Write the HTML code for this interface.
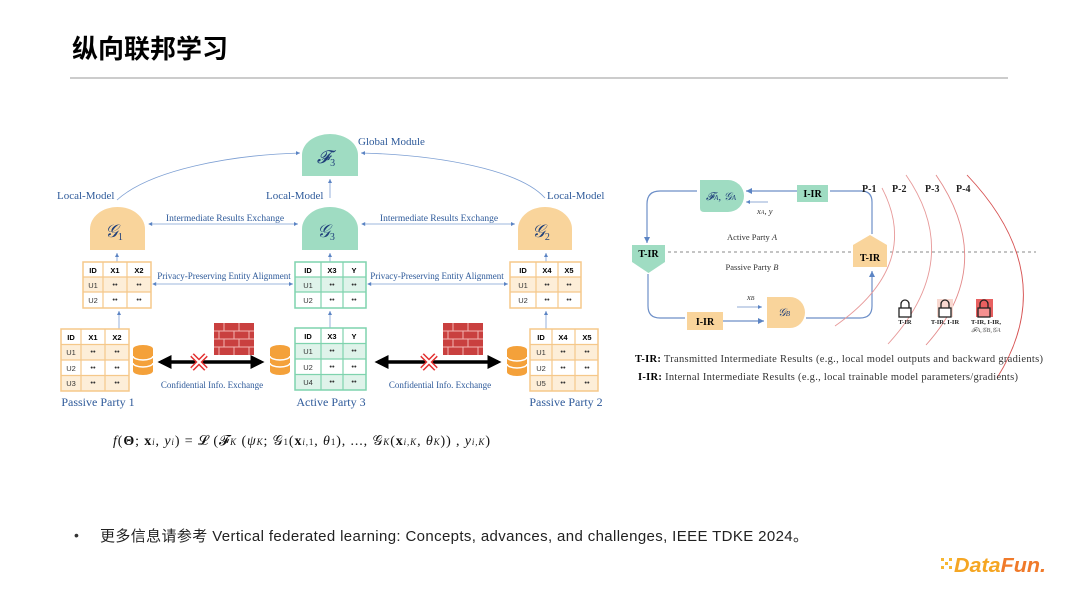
<!DOCTYPE html>
<html><head><meta charset="utf-8"><style>
html,body{margin:0;padding:0;background:#fff;}
svg{display:block;}
.s{font-family:"Liberation Serif",serif;}
.a{font-family:"Liberation Sans",sans-serif;}
</style></head><body>
<svg width="1080" height="608" viewBox="0 0 1080 608" xmlns="http://www.w3.org/2000/svg">
<defs>
<marker id="ab" markerWidth="6" markerHeight="6" refX="5" refY="3" orient="auto"><path d="M0,0.5 L5,3 L0,5.5z" fill="#5b84c4"/></marker>
<marker id="abs" markerWidth="6" markerHeight="6" refX="1" refY="3" orient="auto"><path d="M5,0.5 L0,3 L5,5.5z" fill="#5b84c4"/></marker>
<marker id="kb" markerWidth="4" markerHeight="4" refX="3" refY="2" orient="auto"><path d="M0,0 L4,2 L0,4z" fill="#000"/></marker>
<marker id="kbs" markerWidth="4" markerHeight="4" refX="1" refY="2" orient="auto"><path d="M4,0 L0,2 L4,4z" fill="#000"/></marker>
<g id="db"><ellipse cx="10" cy="4" rx="10" ry="4" fill="#f4a13a"/><rect x="0" y="4" width="20" height="22" fill="#f4a13a"/><ellipse cx="10" cy="26" rx="10" ry="4" fill="#f4a13a"/><path d="M0,11 a10,4 0 0 0 20,0 M0,18 a10,4 0 0 0 20,0" fill="none" stroke="#fff" stroke-width="1.5"/></g>
<g id="wall"><rect x="0" y="0" width="40" height="32" fill="#c9403f"/><path d="M0,8H40M0,16H40M0,24H40M10,0V8M25,0V8M5,8V16M20,8V16M35,8V16M10,16V24M25,16V24M5,24V32M20,24V32M35,24V32" stroke="#f3b4b0" stroke-width="1"/></g>
<g id="rx"><path d="M-7,-7 L7,7 M7,-7 L-7,7" stroke="#e23030" stroke-width="5"/><path d="M-7,-7 L7,7 M7,-7 L-7,7" stroke="#fff" stroke-width="2"/></g>
</defs>

<text x="72" y="58" font-family="Liberation Sans,Noto Sans CJK SC,sans-serif" font-size="26" font-weight="bold" fill="#000">纵向联邦学习</text>
<line x1="70" y1="78" x2="1008" y2="78" stroke="#999" stroke-width="1"/>

<g class="s" fill="#2e5a9a">
<text x="358" y="145" font-size="11">Global Module</text>
<text x="57" y="199" font-size="11">Local-Model</text>
<text x="266" y="199" font-size="11">Local-Model</text>
<text x="547" y="199" font-size="11">Local-Model</text>
<text x="225" y="221" font-size="9.5" text-anchor="middle">Intermediate Results Exchange</text>
<text x="439" y="221" font-size="9.5" text-anchor="middle">Intermediate Results Exchange</text>
<text x="224" y="279" font-size="9" text-anchor="middle">Privacy-Preserving Entity Alignment</text>
<text x="437" y="279" font-size="9" text-anchor="middle">Privacy-Preserving Entity Alignment</text>
<text x="212" y="388" font-size="9" text-anchor="middle">Confidential Info. Exchange</text>
<text x="440" y="388" font-size="9" text-anchor="middle">Confidential Info. Exchange</text>
<text x="98" y="406" font-size="12" text-anchor="middle">Passive Party 1</text>
<text x="331" y="406" font-size="12" text-anchor="middle">Active Party 3</text>
<text x="566" y="406" font-size="12" text-anchor="middle">Passive Party 2</text>
</g>
<path d="M302,176 V155 a28,21 0 0 1 56,0 V176z" fill="#9fdcc2"/>
<path d="M90,250 V229 a27.5,22 0 0 1 55,0 V250z" fill="#f9d49b"/>
<path d="M302,250 V229 a28,22 0 0 1 56,0 V250z" fill="#9fdcc2"/>
<path d="M518,250 V229 a27,22 0 0 1 54,0 V250z" fill="#f9d49b"/>
<g class="s" font-style="italic" fill="#1f3f7a" font-size="18" text-anchor="middle">
<text x="326" y="163">𝓕<tspan font-size="10" font-style="normal" dy="3">3</tspan></text>
<text x="114" y="237">𝒢<tspan font-size="10" font-style="normal" dy="3">1</tspan></text>
<text x="326" y="237">𝒢<tspan font-size="10" font-style="normal" dy="3">3</tspan></text>
<text x="541" y="237">𝒢<tspan font-size="10" font-style="normal" dy="3">2</tspan></text>
</g>
<g fill="none" stroke="#7d9fd3" stroke-width="0.8">
<path d="M117,200 C150,170 230,155 300,153" marker-end="url(#ab)"/>
<path d="M545,198 C520,170 440,155 361,153" marker-end="url(#ab)"/>
<path d="M330,198 V179" marker-end="url(#ab)"/>
<path d="M149,224 H298" marker-start="url(#abs)" marker-end="url(#ab)"/>
<path d="M362,224 H515" marker-start="url(#abs)" marker-end="url(#ab)"/>
<path d="M153,284 H293" marker-start="url(#abs)" marker-end="url(#ab)"/>
<path d="M368,284 H508" marker-start="url(#abs)" marker-end="url(#ab)"/>
<path d="M117,262 V253" marker-end="url(#ab)"/>
<path d="M330,262 V253" marker-end="url(#ab)"/>
<path d="M546,262 V253" marker-end="url(#ab)"/>
<path d="M119,329 V311" marker-end="url(#ab)"/>
<path d="M330,328 V311" marker-end="url(#ab)"/>
<path d="M546,329 V311" marker-end="url(#ab)"/>
</g>

<g class="a" font-size="7.5" text-anchor="middle" fill="#333">
<g transform="translate(83,262)">
<rect x="0" y="15" width="68" height="15" fill="#fdeed8"/>
<rect x="0" y="0" width="68" height="46" fill="none" stroke="#f5c88a" stroke-width="1.5"/>
<path d="M20,0V46M44,0V46M0,15H68M0,30H68" stroke="#f5c88a" stroke-width="1.2"/>
<g font-weight="bold" fill="#000"><text x="10" y="11">ID</text><text x="32" y="11">X1</text><text x="56" y="11">X2</text></g>
<text x="10" y="26">U1</text><text x="32" y="25">••</text><text x="56" y="25">••</text>
<text x="10" y="41">U2</text><text x="32" y="40">••</text><text x="56" y="40">••</text>
</g>
<g transform="translate(295,262)">
<rect x="0" y="15" width="71" height="15" fill="#dff3ea"/>
<rect x="0" y="0" width="71" height="46" fill="none" stroke="#7fd3ae" stroke-width="1.5"/>
<path d="M26,0V46M48,0V46M0,15H71M0,30H71" stroke="#7fd3ae" stroke-width="1.2"/>
<g font-weight="bold" fill="#000"><text x="13" y="11">ID</text><text x="37" y="11">X3</text><text x="59" y="11">Y</text></g>
<text x="13" y="26">U1</text><text x="37" y="25">••</text><text x="59" y="25">••</text>
<text x="13" y="41">U2</text><text x="37" y="40">••</text><text x="59" y="40">••</text>
</g>
<g transform="translate(510,262)">
<rect x="0" y="15" width="71" height="15" fill="#fdeed8"/>
<rect x="0" y="0" width="71" height="46" fill="none" stroke="#f5c88a" stroke-width="1.5"/>
<path d="M26,0V46M48,0V46M0,15H71M0,30H71" stroke="#f5c88a" stroke-width="1.2"/>
<g font-weight="bold" fill="#000"><text x="13" y="11">ID</text><text x="37" y="11">X4</text><text x="59" y="11">X5</text></g>
<text x="13" y="26">U1</text><text x="37" y="25">••</text><text x="59" y="25">••</text>
<text x="13" y="41">U2</text><text x="37" y="40">••</text><text x="59" y="40">••</text>
</g>
<g transform="translate(61,329)">
<rect x="0" y="15.5" width="68" height="15.5" fill="#fdeed8"/><rect x="0" y="46.5" width="68" height="15.5" fill="#fdeed8"/>
<rect x="0" y="0" width="68" height="62" fill="none" stroke="#f5c88a" stroke-width="1.5"/>
<path d="M20,0V62M44,0V62M0,15.5H68M0,31H68M0,46.5H68" stroke="#f5c88a" stroke-width="1.2"/>
<g font-weight="bold" fill="#000"><text x="10" y="11">ID</text><text x="32" y="11">X1</text><text x="56" y="11">X2</text></g>
<text x="10" y="26">U1</text><text x="32" y="25">••</text><text x="56" y="25">••</text>
<text x="10" y="42">U2</text><text x="32" y="41">••</text><text x="56" y="41">••</text>
<text x="10" y="57">U3</text><text x="32" y="56">••</text><text x="56" y="56">••</text>
</g>
<g transform="translate(295,328)">
<rect x="0" y="15.5" width="71" height="15.5" fill="#dff3ea"/><rect x="0" y="46.5" width="71" height="15.5" fill="#dff3ea"/>
<rect x="0" y="0" width="71" height="62" fill="none" stroke="#7fd3ae" stroke-width="1.5"/>
<path d="M26,0V62M48,0V62M0,15.5H71M0,31H71M0,46.5H71" stroke="#7fd3ae" stroke-width="1.2"/>
<g font-weight="bold" fill="#000"><text x="13" y="11">ID</text><text x="37" y="11">X3</text><text x="59" y="11">Y</text></g>
<text x="13" y="26">U1</text><text x="37" y="25">••</text><text x="59" y="25">••</text>
<text x="13" y="42">U2</text><text x="37" y="41">••</text><text x="59" y="41">••</text>
<text x="13" y="57">U4</text><text x="37" y="56">••</text><text x="59" y="56">••</text>
</g>
<g transform="translate(530,329)">
<rect x="0" y="15.5" width="68" height="15.5" fill="#fdeed8"/><rect x="0" y="46.5" width="68" height="15.5" fill="#fdeed8"/>
<rect x="0" y="0" width="68" height="62" fill="none" stroke="#f5c88a" stroke-width="1.5"/>
<path d="M22,0V62M45,0V62M0,15.5H68M0,31H68M0,46.5H68" stroke="#f5c88a" stroke-width="1.2"/>
<g font-weight="bold" fill="#000"><text x="11" y="11">ID</text><text x="33" y="11">X4</text><text x="57" y="11">X5</text></g>
<text x="11" y="26">U1</text><text x="33" y="25">••</text><text x="57" y="25">••</text>
<text x="11" y="42">U2</text><text x="33" y="41">••</text><text x="57" y="41">••</text>
<text x="11" y="57">U5</text><text x="33" y="56">••</text><text x="57" y="56">••</text>
</g>
</g>
<use href="#db" x="133" y="345"/>
<use href="#db" x="270" y="345"/>
<use href="#db" x="507" y="346"/>
<path d="M161,362 H261" stroke="#000" stroke-width="3.5" marker-start="url(#kbs)" marker-end="url(#kb)"/>
<path d="M378,362 H498" stroke="#000" stroke-width="3.5" marker-start="url(#kbs)" marker-end="url(#kb)"/>
<use href="#rx" x="199" y="362"/>
<use href="#rx" x="429" y="362"/>
<use href="#wall" x="214" y="323"/>
<use href="#wall" x="443" y="323"/>

<text x="113" y="445" class="s" font-size="14" fill="#111" textLength="377" lengthAdjust="spacing"><tspan font-style="italic">f</tspan>(<tspan font-weight="bold">Θ</tspan>; <tspan font-weight="bold">x</tspan><tspan font-size="9" font-style="italic">i</tspan>, <tspan font-style="italic">y<tspan font-size="9">i</tspan></tspan>) = 𝓛 (𝓕<tspan font-size="9" font-style="italic">K</tspan> (<tspan font-style="italic">ψ<tspan font-size="9">K</tspan></tspan>; 𝒢<tspan font-size="9">1</tspan>(<tspan font-weight="bold">x</tspan><tspan font-size="9" font-style="italic">i,</tspan><tspan font-size="9">1</tspan>, <tspan font-style="italic">θ</tspan><tspan font-size="9">1</tspan>), ..., 𝒢<tspan font-size="9" font-style="italic">K</tspan>(<tspan font-weight="bold">x</tspan><tspan font-size="9" font-style="italic">i,K</tspan>, <tspan font-style="italic">θ<tspan font-size="9">K</tspan></tspan>)) , <tspan font-style="italic">y<tspan font-size="9">i,K</tspan></tspan>)</text>

<g fill="none" stroke="#6d8fc8" stroke-width="1.2">
<path d="M697,191 H660 q-13,0 -13,13 V243" marker-end="url(#ab)"/>
<path d="M648,274 V306 q0,12 12,12 H685"/>
<path d="M723,321 H764" marker-end="url(#ab)"/>
<path d="M806,318 H860 q12,0 12,-12 V271" marker-end="url(#ab)"/>
<path d="M872,234 V202 q0,-11 -11,-11 H830"/>
<path d="M797,191 H746" marker-end="url(#ab)"/>
<path d="M768,202 H746" stroke-width="0.8" marker-end="url(#ab)"/>
<path d="M737,307 H762" stroke-width="0.8" marker-end="url(#ab)"/>
</g>
<line x1="632" y1="252" x2="1036" y2="252" stroke="#888" stroke-width="1" stroke-dasharray="3,3"/>
<g fill="none" stroke-width="0.9">
<path d="M882,188 Q922,265 835,326" stroke="#e79a9a"/>
<path d="M906,175 Q965,260 888,344" stroke="#e79a9a"/>
<path d="M936,175 Q998,265 926,345" stroke="#e38a8a"/>
<path d="M967,175 Q1062,275 997,378" stroke="#d65050"/>
</g>
<path d="M700,180 H728 a16,16 0 0 1 0,32 H704 q-4,0 -4,-4z" fill="#9fdcc2"/>
<text x="721" y="200" class="s" font-style="italic" font-size="11" text-anchor="middle" fill="#1f3f7a">𝓕<tspan font-size="7">A</tspan>, 𝒢<tspan font-size="7">A</tspan></text>
<rect x="797" y="185" width="31" height="17" fill="#9fdcc2"/>
<text x="812.5" y="197" class="s" font-weight="bold" font-size="10" text-anchor="middle">I-IR</text>
<path d="M632,245 H665 V262 L648.5,273 L632,262z" fill="#9fdcc2"/>
<text x="648.5" y="257" class="s" font-weight="bold" font-size="10" text-anchor="middle">T-IR</text>
<path d="M853,267 V245 L870,235 L887,245 V267z" fill="#f9d49b"/>
<text x="870" y="261" class="s" font-weight="bold" font-size="10" text-anchor="middle">T-IR</text>
<path d="M767,297 H790 a15,15.5 0 0 1 0,31 H767z" fill="#f9d49b"/>
<text x="784" y="316" class="s" font-style="italic" font-size="11" text-anchor="middle" fill="#1f3f7a">𝒢<tspan font-size="7">B</tspan></text>
<rect x="687" y="312" width="36" height="18" fill="#f9d49b"/>
<text x="705" y="325" class="s" font-weight="bold" font-size="10" text-anchor="middle">I-IR</text>
<g class="s" font-size="8.5" fill="#333">
<text x="752" y="240" text-anchor="middle">Active Party <tspan font-style="italic">A</tspan></text>
<text x="752" y="270" text-anchor="middle">Passive Party <tspan font-style="italic">B</tspan></text>
<text x="757" y="214" font-style="italic">x<tspan font-size="6">A</tspan>, y</text>
<text x="747" y="300" font-style="italic">x<tspan font-size="6">B</tspan></text>
</g>
<g class="s" font-weight="bold" font-size="10" fill="#222">
<text x="862" y="192">P-1</text><text x="892" y="192">P-2</text><text x="925" y="192">P-3</text><text x="956" y="192">P-4</text>
</g>
<g stroke="#222" stroke-width="1.3" fill="none">
<path d="M901,308 v-4 a4,4 0 0 1 8,0 v4"/><rect x="899" y="308" width="12" height="9" fill="#fff"/>
<rect x="937" y="299" width="16" height="18" fill="#f8d8d0" stroke="none"/>
<path d="M941,308 v-4 a4,4 0 0 1 8,0 v4"/><rect x="939" y="308" width="12" height="9" fill="#fff"/>
<rect x="976" y="299" width="17" height="18" fill="#e86060" stroke="none"/>
<path d="M980,308 v-4 a4,4 0 0 1 8,0 v4"/><rect x="978" y="308" width="12" height="9" fill="#f59090"/>
</g>
<g class="s" font-size="6.5" font-weight="bold" fill="#222" text-anchor="middle">
<text x="905" y="324">T-IR</text><text x="945" y="324">T-IR, I-IR</text><text x="986" y="324">T-IR, I-IR,</text>
<text x="986" y="332" font-weight="normal" font-style="italic" fill="#555">𝓕A,𝒢B,𝒢A</text>
</g>
<g class="s" font-size="10.5" fill="#333">
<text x="635" y="362" textLength="408" lengthAdjust="spacing"><tspan font-weight="bold" fill="#000">T-IR:</tspan> Transmitted Intermediate Results (e.g., local model outputs and backward gradients)</text>
<text x="638" y="380" textLength="380" lengthAdjust="spacing"><tspan font-weight="bold" fill="#000">I-IR:</tspan> Internal Intermediate Results (e.g., local trainable model parameters/gradients)</text>
</g>

<text x="74" y="540" font-family="Liberation Sans,sans-serif" font-size="14" fill="#333">•</text>
<text x="100" y="541" font-family="Liberation Sans,Noto Sans CJK SC,sans-serif" font-size="15" fill="#222" textLength="708" lengthAdjust="spacing">更多信息请参考 Vertical federated learning: Concepts, advances, and challenges, IEEE TDKE 2024。</text>

<g fill="#f7b731">
<rect x="941" y="558" width="3" height="3"/><rect x="945" y="562" width="3" height="3"/><rect x="941" y="566" width="3" height="3"/><rect x="949" y="558" width="3" height="3"/><rect x="949" y="566" width="3" height="3"/>
</g>
<text x="954" y="572" font-family="Liberation Sans,sans-serif" font-size="20" font-weight="bold" font-style="italic" fill="#f5a623" textLength="92" lengthAdjust="spacingAndGlyphs">Data<tspan fill="#f07a2a">Fun.</tspan></text>
</svg>
</body></html>
